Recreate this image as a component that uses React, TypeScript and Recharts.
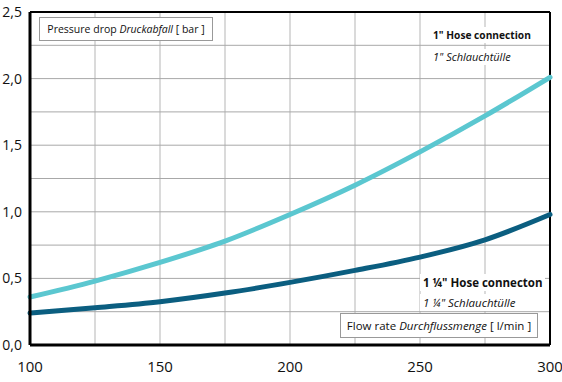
import { LineChart, Line, XAxis, YAxis } from "recharts";

const flow = [100, 125, 150, 175, 200, 225, 250, 275, 300];
const hose1 = [0.36, 0.48, 0.62, 0.78, 0.98, 1.2, 1.45, 1.72, 2.01];
const hose114 = [0.24, 0.28, 0.325, 0.39, 0.47, 0.56, 0.66, 0.79, 0.98];
const xTicks = [100, 150, 200, 250, 300];
const yTicks = [0, 0.5, 1, 1.5, 2, 2.5];
// grid every 25 l/min and 0.25 bar
const gridX = [125, 150, 175, 200, 225, 250, 275];
const gridY = [0.25, 0.5, 0.75, 1, 1.25, 1.5, 1.75, 2, 2.25];

const data = flow.map((f, i) => ({ flow: f, a: hose1[i], b: hose114[i] }));

// grid lines as two-point segments, drawn through the chart scales
const hSeg = (v: number) => [{ flow: 100, g: v }, { flow: 300, g: v }];
const vSeg = (f: number) => [{ flow: f, g: 0 }, { flow: f, g: 2.5 }];

const font = "'Open Sans', sans-serif";

const App = () => {
  return (
    <div style={{ position: "absolute", left: 0, top: 0, width: 562, height: 382, background: "#fff", fontFamily: font }}>
      <LineChart width={562} height={382} data={data} margin={{ top: 12, right: 12, bottom: 0, left: 0 }}>
        <XAxis
          dataKey="flow"
          type="number"
          domain={[100, 300]}
          ticks={xTicks}
          height={37}
          axisLine={{ stroke: "#000", strokeWidth: 3 }}
          tickLine={false}
          tick={{ fill: "#111", fontSize: 15, fontFamily: font }}
          tickMargin={10}
        />
        <YAxis
          type="number"
          domain={[0, 2.5]}
          ticks={yTicks}
          width={30}
          axisLine={{ stroke: "#000", strokeWidth: 3 }}
          tickLine={false}
          tick={{ fill: "#111", fontSize: 14, fontFamily: font }}
          tickMargin={2}
          tickFormatter={(v: number) => v.toFixed(1).replace(".", ",")}
        />
        {gridX.map((f) => (
          <Line key={`gx-${f}`} data={vSeg(f)} dataKey="g" type="linear" stroke="#b5b5b5" strokeWidth={1} dot={false} activeDot={false} isAnimationActive={false} />
        ))}
        {gridY.map((v) => (
          <Line key={`gy-${v}`} data={hSeg(v)} dataKey="g" type="linear" stroke="#a8a8a8" strokeWidth={1} dot={false} activeDot={false} isAnimationActive={false} />
        ))}
        {/* top and right edge of the frame */}
        <Line data={hSeg(2.5)} dataKey="g" type="linear" stroke="#000" strokeWidth={2} dot={false} activeDot={false} isAnimationActive={false} />
        <Line data={vSeg(300)} dataKey="g" type="linear" stroke="#000" strokeWidth={2} dot={false} activeDot={false} isAnimationActive={false} />

        <Line type="monotone" dataKey="a" stroke="#5bc7d0" strokeWidth={5} strokeLinecap="round" dot={false} isAnimationActive={false} />
        <Line type="monotone" dataKey="b" stroke="#0b5e80" strokeWidth={5} strokeLinecap="round" dot={false} isAnimationActive={false} />
      </LineChart>

      {/* y label box */}
      <div style={{ position: "absolute", left: 39, top: 17, width: 174, height: 24, border: "1px solid #999", background: "#fff", fontSize: 10.5, lineHeight: "22px", color: "#111", textAlign: "center", boxSizing: "border-box" }}>
        Pressure drop <i>Druckabfall</i> [ bar ]
      </div>

      {/* 1" legend */}
      <div style={{ position: "absolute", left: 430, top: 27, background: "#fff", fontSize: 10.2, color: "#111", padding: "0 3px", fontWeight: 700, lineHeight: "16px" }}>
        1" Hose connection
      </div>
      <div style={{ position: "absolute", left: 430, top: 49, background: "#fff", fontSize: 11, color: "#111", padding: "0 3px", fontStyle: "italic", lineHeight: "16px" }}>
        1" Schlauchtülle
      </div>

      {/* 1 1/4" legend */}
      <div style={{ position: "absolute", left: 420, top: 274, background: "#fff", fontSize: 11.5, color: "#111", padding: "0 3px", fontWeight: 700, lineHeight: "17px" }}>
        1 ¼" Hose connecton
      </div>
      <div style={{ position: "absolute", left: 420, top: 294, background: "#fff", fontSize: 11.5, color: "#111", padding: "0 3px", fontStyle: "italic", lineHeight: "17px" }}>
        1 ¼" Schlauchtülle
      </div>

      {/* x label box */}
      <div style={{ position: "absolute", left: 340, top: 313, width: 198, height: 25, border: "1px solid #999", background: "#fff", fontSize: 11.5, lineHeight: "23px", color: "#111", textAlign: "center", boxSizing: "border-box" }}>
        Flow rate <i>Durchflussmenge</i> [ l/min ]
      </div>
    </div>
  );
};

export default App;
